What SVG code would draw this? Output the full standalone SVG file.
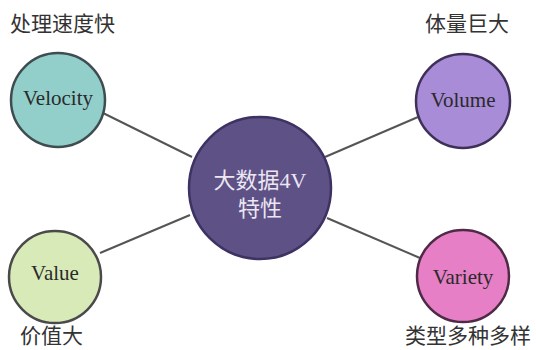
<svg xmlns="http://www.w3.org/2000/svg" width="536" height="350" viewBox="0 0 536 350">
<style>
.node{stroke-width:2.5}
.lbl{font-family:"Liberation Serif","Noto Sans CJK SC",serif;font-size:21px;text-anchor:middle;fill:#2a2a2a}
.cap{font-family:"Noto Sans CJK SC",sans-serif;font-size:21px;fill:#333}
.conn line{stroke:#555;stroke-width:2}
</style>
<rect width="536" height="350" fill="#ffffff"/>
<g id="connectors" class="conn">
<line x1="103" y1="113" x2="192" y2="157"/>
<line x1="100" y1="253" x2="190" y2="215"/>
<line x1="325" y1="157" x2="418" y2="117"/>
<line x1="327" y1="218" x2="420" y2="258"/>
</g>
<g id="center">
<circle class="node" cx="260" cy="188" r="71" fill="#5e5186" stroke="#3e3263"/>
<text x="260" y="188" font-family="'Liberation Serif','Noto Sans CJK SC',serif" font-size="22" text-anchor="middle" fill="#ebe6f2">大数据4V</text>
<text x="260" y="216" font-family="'Liberation Serif','Noto Sans CJK SC',serif" font-size="22" text-anchor="middle" fill="#ebe6f2">特性</text>
</g>
<g id="velocity">
<circle class="node" cx="58" cy="100" r="47" fill="#93cfca" stroke="#3f4d50"/>
<text class="lbl" x="58" y="105">Velocity</text>
<text class="cap" x="10" y="31">处理速度快</text>
</g>
<g id="volume">
<circle class="node" cx="463" cy="101" r="47" fill="#a88cd8" stroke="#3f3058"/>
<text class="lbl" x="463" y="107">Volume</text>
<text class="cap" x="425" y="31">体量巨大</text>
</g>
<g id="value">
<circle class="node" cx="55" cy="277" r="46" fill="#d9eab9" stroke="#4a4a4a"/>
<text class="lbl" x="55" y="280">Value</text>
<text class="cap" x="20" y="343">价值大</text>
</g>
<g id="variety">
<circle class="node" cx="463" cy="276" r="46" fill="#e67fc6" stroke="#4e2a46"/>
<text class="lbl" x="463" y="284">Variety</text>
<text class="cap" x="405" y="343">类型多种多样</text>
</g>
</svg>
